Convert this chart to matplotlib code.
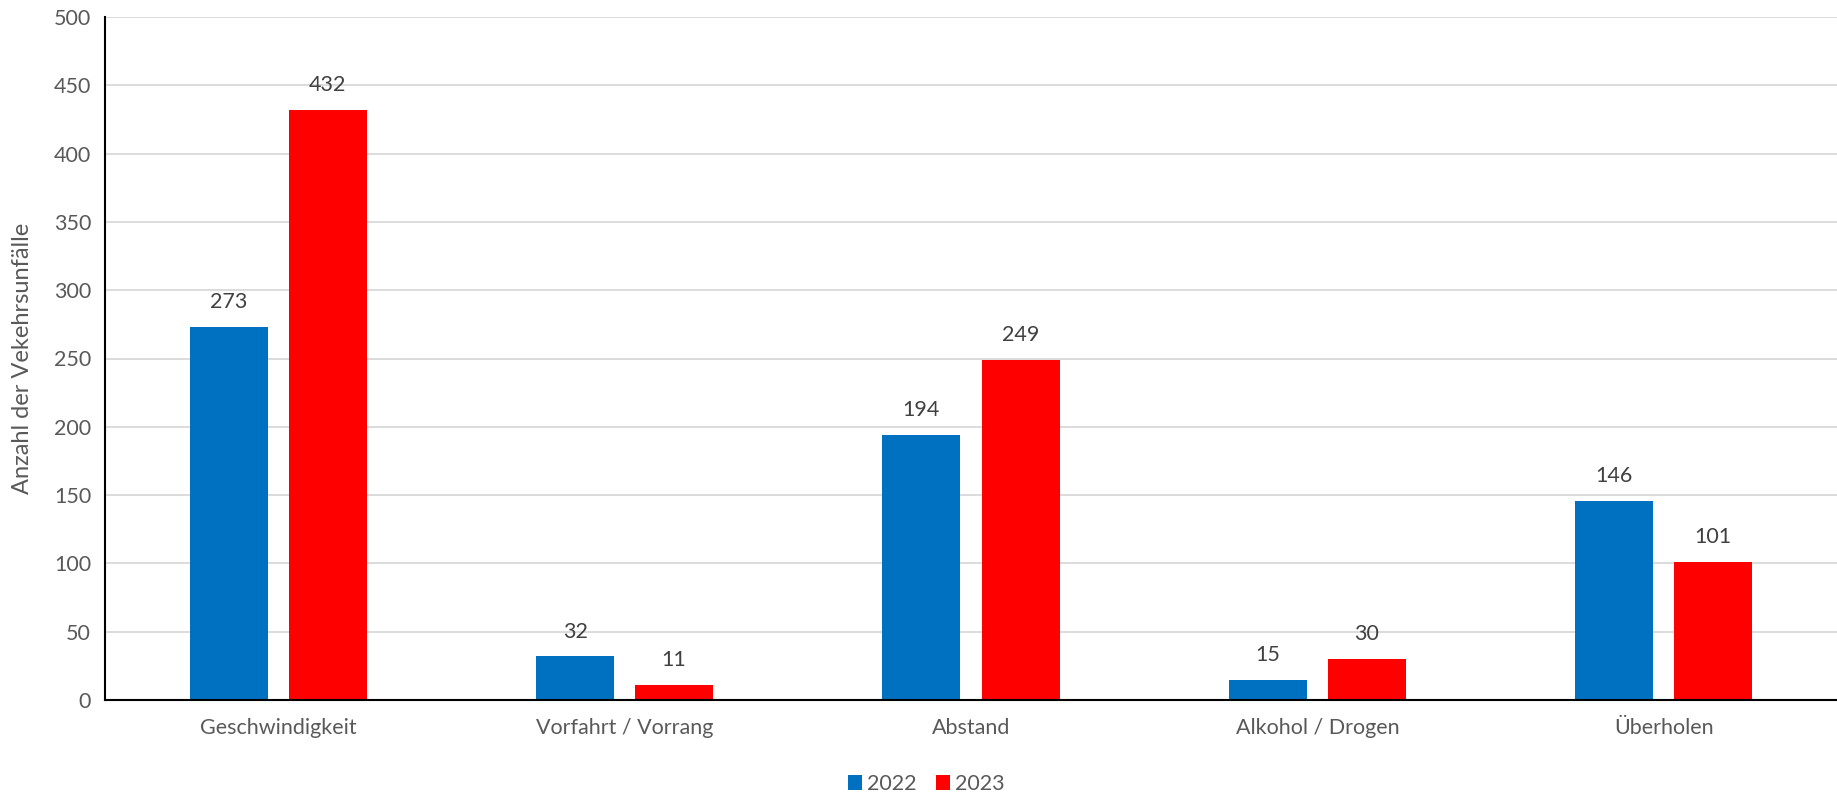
import matplotlib
matplotlib.use("Agg")
import matplotlib.pyplot as plt
import numpy as np

categories = ["Geschwindigkeit", "Vorfahrt / Vorrang", "Abstand", "Alkohol / Drogen", "Überholen"]
values_2022 = [273, 32, 194, 15, 146]
values_2023 = [432, 11, 249, 30, 101]
series_labels = ["2022", "2023"]
yticks = [0, 50, 100, 150, 200, 250, 300, 350, 400, 450, 500]

plt.rcParams['font.family'] = ['Lato', 'DejaVu Sans']
txt = '#595959'
fs = 15.5

fig = plt.figure(figsize=(18.37, 7.94), dpi=100)
ax = fig.add_axes([105/1837, 1-700/794, 1-105/1837, (700-17)/794])

x = np.arange(len(categories))
w = 0.225
off = 0.143
b1 = ax.bar(x - off, values_2022, w, color='#0070C0', label=series_labels[0], zorder=3)
b2 = ax.bar(x + off, values_2023, w, color='#FF0000', label=series_labels[1], zorder=3)

for bars in (b1, b2):
    for r in bars:
        ax.annotate(f"{int(r.get_height())}", (r.get_x() + r.get_width()/2, r.get_height()),
                    xytext=(0, 10.5), textcoords='offset points', ha='center', va='bottom',
                    fontsize=fs, color='#404040')

ax.set_xlim(-0.5, len(categories) - 0.5)
ax.set_ylim(0, 500)
ax.set_yticks(yticks)
ax.set_xticks(x)
ax.set_xticklabels(categories)
ax.tick_params(axis='both', length=0, labelsize=fs, labelcolor=txt)
ax.tick_params(axis='x', pad=13)
ax.tick_params(axis='y', pad=10)
ax.grid(axis='y', color='#D9D9D9', linewidth=1.3, zorder=0)
for s in ['top', 'right']:
    ax.spines[s].set_visible(False)
ax.spines['left'].set_color('black')
ax.spines['bottom'].set_color('black')
ax.spines['left'].set_linewidth(1.5)
ax.spines['bottom'].set_linewidth(1.5)
ax.spines['left'].set_zorder(4)
ax.spines['bottom'].set_zorder(4)

ax.set_ylabel("Anzahl der Vekehrsunfälle", fontsize=17, color=txt)
ax.yaxis.set_label_coords(-72/1732, 0.5)

leg = fig.legend(loc='center', bbox_to_anchor=(0.5 + 8/1837, 1-784/794), ncol=2, frameon=False,
                 fontsize=fs, handlelength=0.65, handleheight=0.65, handletextpad=0.25,
                 columnspacing=0.9, labelcolor=txt)

fig.savefig("out.png", dpi=100)
